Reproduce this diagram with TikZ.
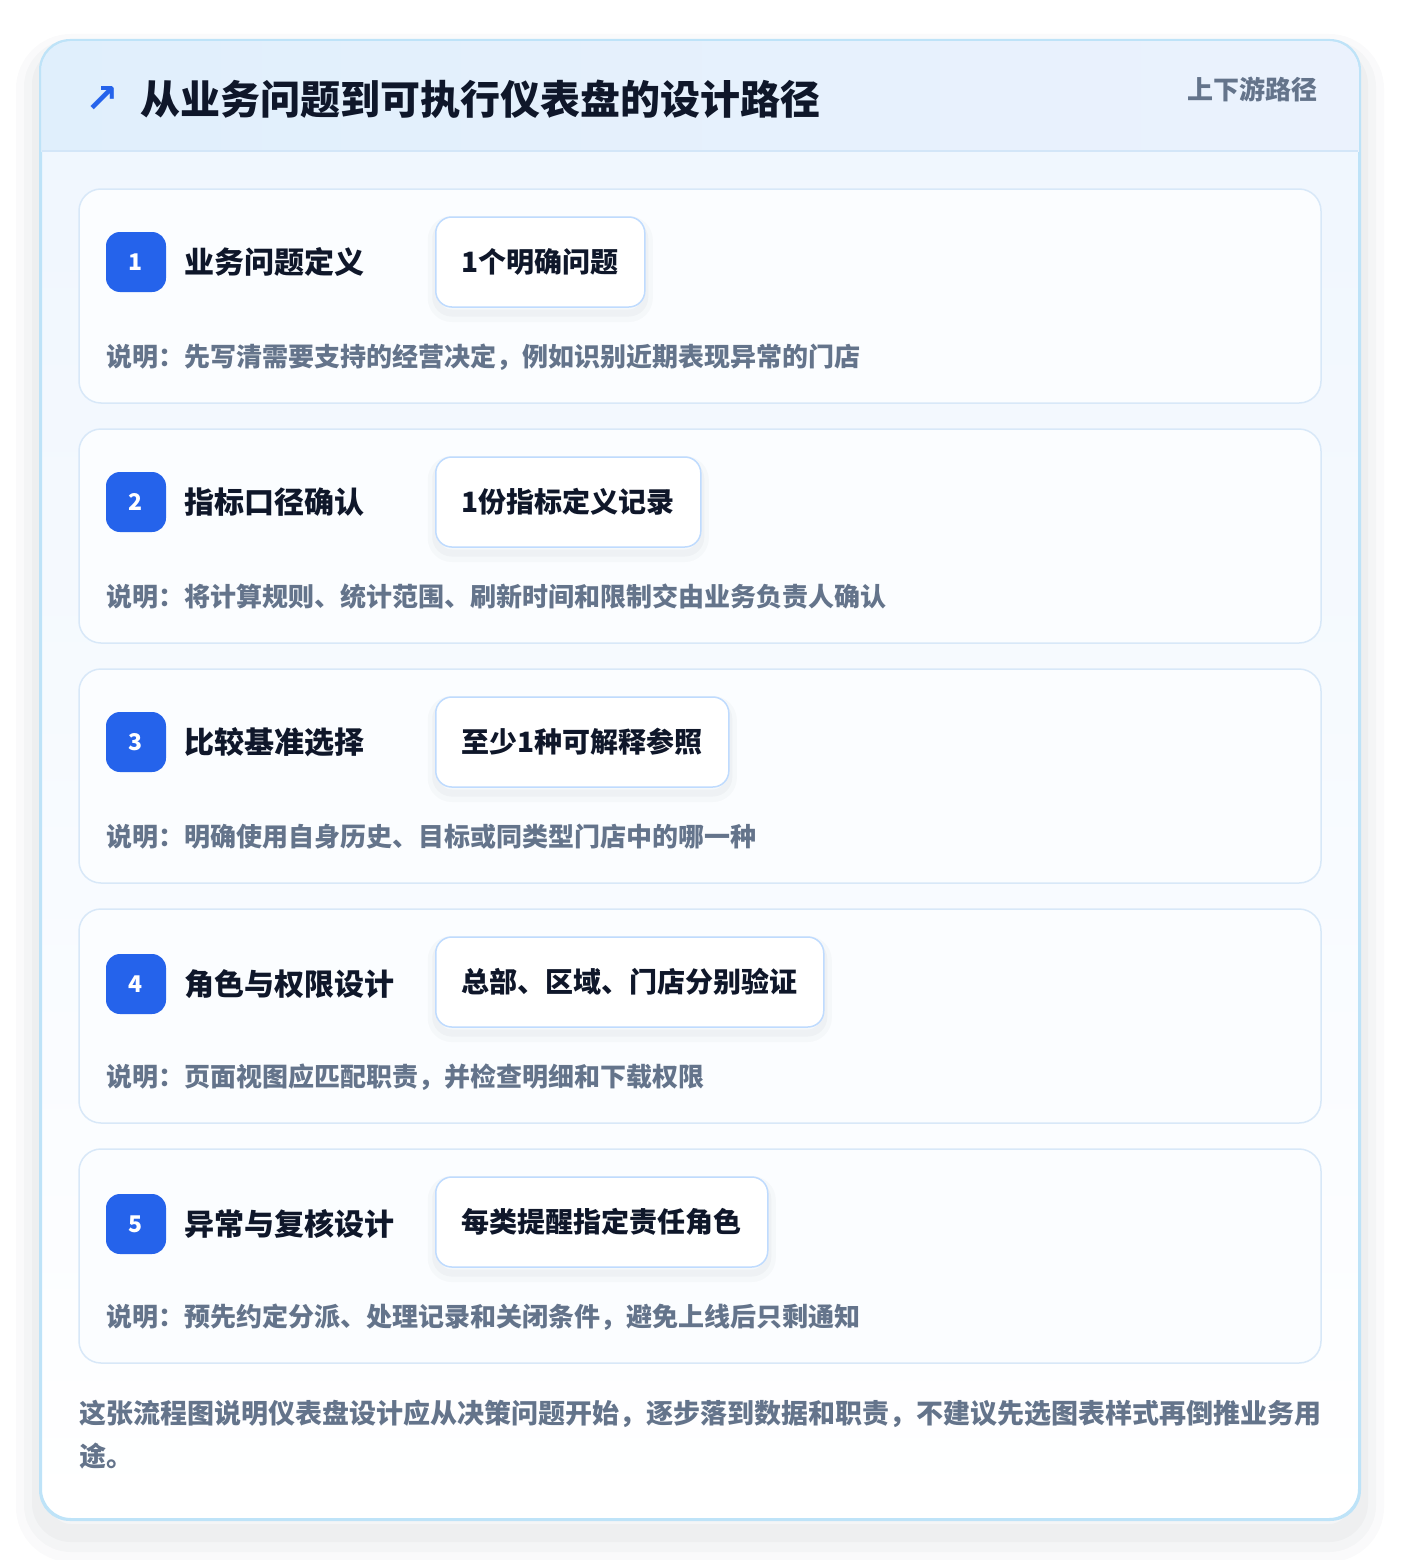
\documentclass[tikz,border=0pt]{standalone}
\usepackage{fontspec}
\setmainfont{Noto Sans CJK SC}
\newfontfamily\symfont{DejaVu Sans}
\usepackage{tikz}
\usetikzlibrary{positioning}
\definecolor{colorBrand}{HTML}{2563EB}
\definecolor{colorInk}{HTML}{0F172A}
\definecolor{colorMuted}{HTML}{64748B}
\definecolor{colorFrame}{HTML}{BEE3F8}
\definecolor{colorHeadL}{HTML}{E0EFFC}
\definecolor{colorHeadR}{HTML}{EBF2FD}
\definecolor{colorHeadLine}{HTML}{D3E6F8}
\definecolor{colorBodyTop}{HTML}{EFF6FE}
\definecolor{colorCard}{HTML}{FBFDFF}
\definecolor{colorCardLine}{HTML}{D8E8F8}
\definecolor{colorTagLine}{HTML}{BFDBFE}
\definecolor{colorShade}{HTML}{1E293B}
\tikzset{
  panel/.style={draw=colorFrame, line width=2pt, rounded corners=30pt, top color=colorBodyTop, bottom color=white,
    minimum width=1318pt, minimum height=1478pt, inner sep=0pt,
    preaction={draw=colorShade, draw opacity=0.018, line width=50pt, transform canvas={yshift=-18pt}},
    preaction={draw=colorShade, draw opacity=0.022, line width=34pt, transform canvas={yshift=-16pt}},
    preaction={draw=colorShade, draw opacity=0.026, line width=18pt, transform canvas={yshift=-14pt}}},
  card/.style={draw=colorCardLine, line width=1.5pt, fill=colorCard, rounded corners=22pt,
    minimum width=1242pt, minimum height=214pt, inner sep=0pt},
  badge/.style={fill=colorBrand, rounded corners=14pt, minimum size=60pt, inner sep=0pt,
    text=white, font=\fontsize{23}{26}\selectfont\bfseries},
  steptitle/.style={inner sep=0pt, text=colorInk, font=\fontsize{30}{36}\selectfont\bfseries},
  tag/.style={draw=colorTagLine, line width=1.5pt, fill=white, rounded corners=16pt, minimum height=90pt,
    inner xsep=26pt, text=colorInk, font=\fontsize{28}{34}\selectfont\bfseries,
    preaction={draw=colorShade, draw opacity=0.025, line width=16pt, transform canvas={yshift=-7pt}},
    preaction={draw=colorShade, draw opacity=0.03, line width=7pt, transform canvas={yshift=-6pt}}},
  desc/.style={inner sep=0pt, text=colorMuted, font=\fontsize{26}{32}\selectfont\bfseries},
  note/.style={inner sep=0pt, text=colorMuted, font=\fontsize{27}{32}\selectfont\bfseries},
}

\begin{document}
\begin{tikzpicture}[x=1pt, y=-1pt]
\useasboundingbox[fill=white] (0,0) rectangle (1400,1560);
% outer panel and header band
\node[panel] (panel) at (700,780) {};
\begin{scope}
\clip[rounded corners=30pt] (41,41) rectangle (1359,1519);
\shade[left color=colorHeadL, right color=colorHeadR] (41,41) rectangle (1359,151);
\end{scope}
\draw[colorHeadLine, line width=1.5pt] (42,151) -- (1358,151);
\draw[colorFrame, line width=2pt, rounded corners=30pt] (panel.north west) rectangle (panel.south east);
\node[inner sep=0pt, text=colorBrand, font=\symfont\bfseries\fontsize{40}{44}\selectfont] (icon) at (102,100) {↗};
\node[anchor=west, inner sep=0pt, text=colorInk, font=\fontsize{40}{48}\selectfont\bfseries] (title) at (140,99) {从业务问题到可执行仪表盘的设计路径};
\node[anchor=east, inner sep=0pt, text=colorMuted, font=\fontsize{26}{30}\selectfont\bfseries] (flow) at (1318,89) {上下游路径};

% step 1
\node[card] (c1) at (700,296) {};
\node[badge] (b1) at (136,262) {1};
\node[steptitle, right=18pt of b1] (t1) {业务问题定义};
\node[tag, anchor=west] (g1) at (435,262) {1个明确问题};
\node[desc, anchor=west] (d1) at (106,357) {说明：先写清需要支持的经营决定，例如识别近期表现异常的门店};

% step 2
\node[card] (c2) at (700,536) {};
\node[badge] (b2) at (136,502) {2};
\node[steptitle, right=18pt of b2] (t2) {指标口径确认};
\node[tag, anchor=west] (g2) at (435,502) {1份指标定义记录};
\node[desc, anchor=west] (d2) at (106,597) {说明：将计算规则、统计范围、刷新时间和限制交由业务负责人确认};

% step 3
\node[card] (c3) at (700,776) {};
\node[badge] (b3) at (136,742) {3};
\node[steptitle, right=18pt of b3] (t3) {比较基准选择};
\node[tag, anchor=west] (g3) at (435,742) {至少1种可解释参照};
\node[desc, anchor=west] (d3) at (106,837) {说明：明确使用自身历史、目标或同类型门店中的哪一种};

% step 4
\node[card] (c4) at (700,1016) {};
\node[badge] (b4) at (136,984) {4};
\node[steptitle, right=18pt of b4] (t4) {角色与权限设计};
\node[tag, anchor=west] (g4) at (435,982) {总部、区域、门店分别验证};
\node[desc, anchor=west] (d4) at (106,1077) {说明：页面视图应匹配职责，并检查明细和下载权限};

% step 5
\node[card] (c5) at (700,1256) {};
\node[badge] (b5) at (136,1224) {5};
\node[steptitle, right=18pt of b5] (t5) {异常与复核设计};
\node[tag, anchor=west] (g5) at (435,1222) {每类提醒指定责任角色};
\node[desc, anchor=west] (d5) at (106,1317) {说明：预先约定分派、处理记录和关闭条件，避免上线后只剩通知};

% closing note
\node[note, anchor=west] (note1) at (79,1414) {这张流程图说明仪表盘设计应从决策问题开始，逐步落到数据和职责，不建议先选图表样式再倒推业务用};
\node[note, anchor=west] (note2) at (79,1456) {途。};
\end{tikzpicture}
\end{document}
